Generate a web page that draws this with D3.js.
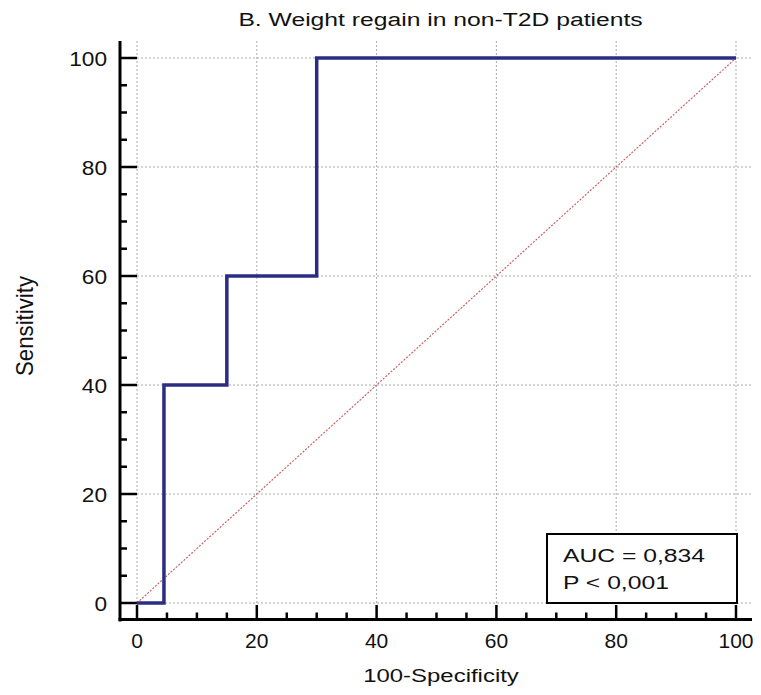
<!DOCTYPE html>
<html><head><meta charset="utf-8">
<script src="https://cdn.jsdelivr.net/npm/d3@7"></script>
<style>body{margin:0;background:#fff;}text{font-family:"Liberation Sans",Arial,sans-serif;fill:#111;}</style>
</head><body><svg id="c" width="761" height="695"></svg>
<script>
const rocX = [0, 4.5, 4.5, 15, 15, 30, 30, 100];
const rocY = [0, 0, 40, 40, 60, 60, 100, 100];
const diagX = [0, 100];
const diagY = [0, 100];
const majorTicks = [0, 20, 40, 60, 80, 100];
const minorTicks = d3.range(0, 101, 5);
const title = "B. Weight regain in non-T2D patients";
const xLabel = "100-Specificity";
const yLabel = "Sensitivity";
const statLines = ["AUC = 0,834", "P < 0,001"];

(function () {
const svg = d3.select("#c");
const x = d3.scaleLinear().domain([0, 100]).range([137, 736]);
const y = d3.scaleLinear().domain([0, 100]).range([603, 58]);
const axX = 120, axY = 619.5, plotTop = 41, plotRight = 752;

// grid
const g = svg.append("g");
g.selectAll(".vg").data(majorTicks).enter().append("line")
  .attr("x1", d => x(d)).attr("x2", d => x(d)).attr("y1", plotTop).attr("y2", y(0))
  .attr("stroke", "#aaa").attr("stroke-width", 1).attr("stroke-dasharray", "2,2");
g.selectAll(".hg").data(majorTicks).enter().append("line")
  .attr("x1", x(0)).attr("x2", plotRight).attr("y1", d => y(d)).attr("y2", d => y(d))
  .attr("stroke", "#aaa").attr("stroke-width", 1).attr("stroke-dasharray", "2,2");

// axes lines
svg.append("line").attr("x1", axX).attr("x2", axX).attr("y1", plotTop).attr("y2", axY + 2)
  .attr("stroke", "#000").attr("stroke-width", 3);
svg.append("line").attr("x1", axX - 1.5).attr("x2", plotRight).attr("y1", axY).attr("y2", axY)
  .attr("stroke", "#000").attr("stroke-width", 3);

// y ticks
svg.selectAll(".yt").data(minorTicks).enter().append("line")
  .attr("x1", axX).attr("x2", d => majorTicks.includes(d) ? x(0) : axX + 7)
  .attr("y1", d => y(d)).attr("y2", d => y(d))
  .attr("stroke", "#000").attr("stroke-width", 2.5);
svg.selectAll(".ytl").data(majorTicks).enter().append("text")
  .attr("transform", d => `translate(107,${y(d) + 7.5}) scale(1.08,1)`)
  .attr("text-anchor", "end").attr("font-size", 21).text(d => d);

// x ticks
svg.selectAll(".xt").data(minorTicks).enter().append("line")
  .attr("y1", axY).attr("y2", d => majorTicks.includes(d) ? y(0) + 2 : axY - 7)
  .attr("x1", d => x(d)).attr("x2", d => x(d))
  .attr("stroke", "#000").attr("stroke-width", 2.5);
svg.selectAll(".xtl").data(majorTicks).enter().append("text")
  .attr("x", d => x(d)).attr("y", 648)
  .attr("text-anchor", "middle").attr("font-size", 21).text(d => d);

// diagonal
svg.append("path").datum(diagX.map((d, i) => [d, diagY[i]]))
  .attr("d", d3.line().x(d => x(d[0])).y(d => y(d[1])))
  .attr("fill", "none").attr("stroke", "#c86464").attr("stroke-width", 1.2)
  .attr("stroke-dasharray", "2,1.5");

// ROC
svg.append("path").datum(rocX.map((d, i) => [d, rocY[i]]))
  .attr("d", d3.line().x(d => x(d[0])).y(d => y(d[1])))
  .attr("fill", "none").attr("stroke", "#2b2d84").attr("stroke-width", 3.5)
  .attr("stroke-linejoin", "miter");

// stat box
svg.append("rect").attr("x", 547).attr("y", 534).attr("width", 190).attr("height", 69)
  .attr("fill", "#fff").attr("stroke", "#000").attr("stroke-width", 2);
svg.selectAll(".st").data(statLines).enter().append("text")
  .attr("transform", (d, i) => `translate(563,${562 + i * 27}) scale(1.3,1)`)
  .attr("font-size", 19).text(d => d);

// titles
svg.append("text").attr("transform", "translate(440.5,26) scale(1.3,1)").attr("text-anchor", "middle")
  .attr("font-size", 19).text(title);
svg.append("text").attr("transform", "translate(441,682) scale(1.26,1)").attr("text-anchor", "middle")
  .attr("font-size", 19).text(xLabel);
svg.append("text").attr("transform", "translate(33,326) rotate(-90) scale(1.17,1.3)")
  .attr("text-anchor", "middle").attr("font-size", 19).text(yLabel);
})();
</script></body></html>
